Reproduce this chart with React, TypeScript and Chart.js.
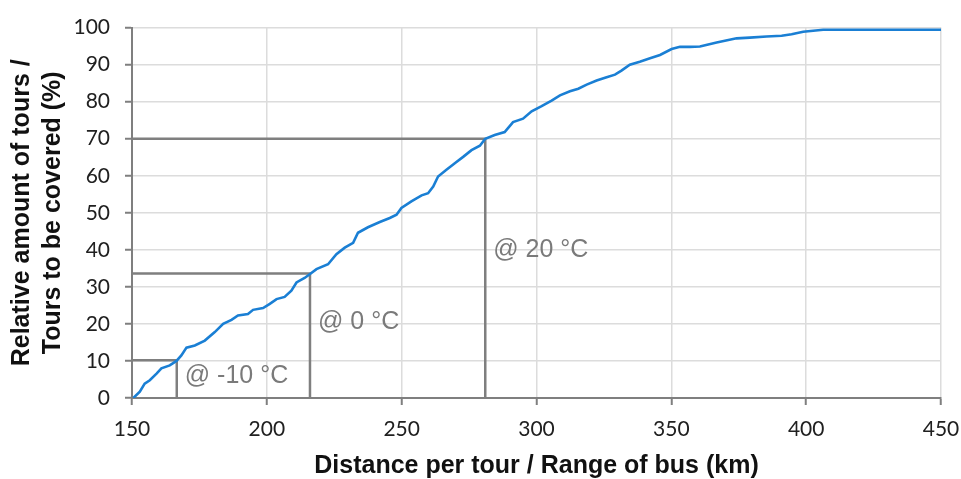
import React, { useEffect, useRef } from "react";
import { Chart, registerables } from "chart.js";

Chart.register(...registerables);

// Cumulative distribution of tour distances
const distanceKm = [
  150.5, 152.9, 154.7, 156.6, 159.1, 160.9, 164.0, 166.5, 168.3, 170.2,
  173.3, 177.0, 180.7, 183.8, 186.9, 189.3, 193.0, 194.9, 198.6, 201.1,
  203.6, 206.6, 209.1, 211.0, 214.0, 215.9, 218.4, 222.7, 225.8, 228.9,
  232.0, 233.8, 237.5, 241.9, 245.6, 248.1, 249.9, 253.6, 257.4, 259.8,
  261.7, 263.5, 266.6, 269.7, 272.8, 275.9, 279.0, 281.0, 284.5, 288.2,
  291.3, 295.0, 298.2, 301.9, 305.6, 308.7, 312.4, 315.5, 318.6, 322.3,
  326.0, 329.1, 331.5, 334.6, 338.3, 342.1, 345.8, 350.1, 353.2, 356.9,
  360.6, 366.8, 374.2, 379.1, 385.3, 390.9, 394.6, 398.9, 406.3, 421.2,
  450.0,
];
const toursPct = [
  0.0, 1.7, 3.9, 4.8, 6.6, 8.0, 8.8, 10.0, 11.5, 13.6,
  14.2, 15.5, 17.8, 20.0, 21.1, 22.3, 22.7, 23.8, 24.3, 25.4,
  26.7, 27.3, 29.0, 31.2, 32.4, 33.4, 34.8, 36.1, 38.8, 40.6,
  41.9, 44.6, 46.1, 47.5, 48.6, 49.5, 51.3, 53.1, 54.7, 55.3,
  57.1, 59.8, 61.6, 63.4, 65.1, 66.9, 68.1, 70.0, 71.0, 71.8,
  74.5, 75.4, 77.4, 78.8, 80.3, 81.7, 82.8, 83.5, 84.6, 85.7,
  86.6, 87.3, 88.4, 90.0, 90.8, 91.7, 92.6, 94.2, 94.8, 94.8,
  94.9, 96.0, 97.1, 97.3, 97.6, 97.8, 98.2, 98.9, 99.4, 99.4,
  99.4,
];

// Bus range at different temperatures
const refLabels = ["@ -10 °C", "@ 0 °C", "@ 20 °C"];
const refRangeKm = [166.6, 216.0, 281.0];
const refToursPct = [10.2, 33.6, 70.0];
const refLabelPct = [6.0, 20.6, 39.8];

const xTickValues = [150, 200, 250, 300, 350, 400, 450];
const yTickValues = [0, 10, 20, 30, 40, 50, 60, 70, 80, 90, 100];

const xTitle = "Distance per tour / Range of bus (km)";
const yTitle = ["Relative amount of tours /", "Tours to be covered (%)"];

const refLabelPlugin = {
  id: "refLabels",
  afterDatasetsDraw(chart: any) {
    const { ctx, scales } = chart;
    const xs = scales.x;
    const ys = scales.y;
    ctx.save();
    ctx.font = '25px "Liberation Sans", Arial, sans-serif';
    ctx.fillStyle = "#7a7a7a";
    ctx.textBaseline = "middle";
    ctx.textAlign = "left";
    refLabels.forEach((t, i) => {
      ctx.fillText(t, xs.getPixelForValue(refRangeKm[i]) + 8, ys.getPixelForValue(refLabelPct[i]));
    });
    ctx.restore();
  },
};

export default function App() {
  const canvasRef = useRef<HTMLCanvasElement | null>(null);

  useEffect(() => {
    if (!canvasRef.current) return;
    const curve = distanceKm.map((x, i) => ({ x, y: toursPct[i] }));
    const refSets = refLabels.map((lbl, i) => ({
      label: lbl,
      data: [
        { x: xTickValues[0], y: refToursPct[i] },
        { x: refRangeKm[i], y: refToursPct[i] },
        { x: refRangeKm[i], y: yTickValues[0] },
      ],
      showLine: true,
      borderColor: "#7f7f7f",
      borderWidth: 2.5,
      pointRadius: 0,
      order: 2,
    }));

    const chart = new Chart(canvasRef.current, {
      type: "scatter",
      data: {
        datasets: [
          {
            label: "Tours",
            data: curve,
            showLine: true,
            borderColor: "#1a7fd4",
            borderWidth: 2.6,
            pointRadius: 0,
            tension: 0,
            order: 1,
          },
          ...refSets,
        ],
      },
      options: {
        responsive: false,
        animation: false,
        devicePixelRatio: 1,
        layout: { padding: { top: 25, right: 20, left: 0, bottom: 0 } },
        plugins: {
          legend: { display: false },
          tooltip: { enabled: false },
        },
        scales: {
          x: {
            type: "linear",
            min: 150,
            max: 450,
            afterBuildTicks: (s: any) => {
              s.ticks = xTickValues.map((v) => ({ value: v }));
            },
            afterFit: (s: any) => {
              s.height = 81;
              s.paddingLeft = 0;
              s.paddingRight = 0;
            },
            ticks: {
              font: { family: "Lato, 'Liberation Sans', sans-serif", size: 21 },
              color: "#202020",
              padding: 12,
              maxRotation: 0,
            },
            grid: {
              color: "#dcdcdc",
              lineWidth: 1.5,
              tickColor: "#7f7f7f",
              tickWidth: 2,
              tickLength: 7,
            },
            border: { color: "#7f7f7f", width: 2 },
            title: {
              display: true,
              text: xTitle,
              color: "#111111",
              font: { family: "'Liberation Sans', Arial, sans-serif", size: 25, weight: "bold", lineHeight: 1.0 },
              padding: { top: 0, bottom: 0 },
            },
          },
          y: {
            type: "linear",
            min: 0,
            max: 100,
            afterBuildTicks: (s: any) => {
              s.ticks = yTickValues.map((v) => ({ value: v }));
            },
            afterFit: (s: any) => {
              s.width = 132;
            },
            ticks: {
              font: { family: "Lato, 'Liberation Sans', sans-serif", size: 21 },
              color: "#202020",
              padding: 15,
            },
            grid: {
              color: "#dcdcdc",
              lineWidth: 1.5,
              tickColor: "#7f7f7f",
              tickWidth: 2,
              tickLength: 7,
            },
            border: { color: "#7f7f7f", width: 2 },
            title: {
              display: true,
              text: yTitle,
              color: "#111111",
              font: { family: "'Liberation Sans', Arial, sans-serif", size: 25, weight: "bold", lineHeight: 1.22 },
              padding: { top: 7, bottom: 0 },
            },
          },
        },
      },
      plugins: [refLabelPlugin],
    });

    return () => {
      chart.destroy();
    };
  }, []);

  return (
    <div style={{ position: "absolute", left: 0, top: 0, width: 961, height: 479, background: "#ffffff" }}>
      <canvas ref={canvasRef} width={961} height={479} style={{ width: 961, height: 479, display: "block" }} />
    </div>
  );
}
